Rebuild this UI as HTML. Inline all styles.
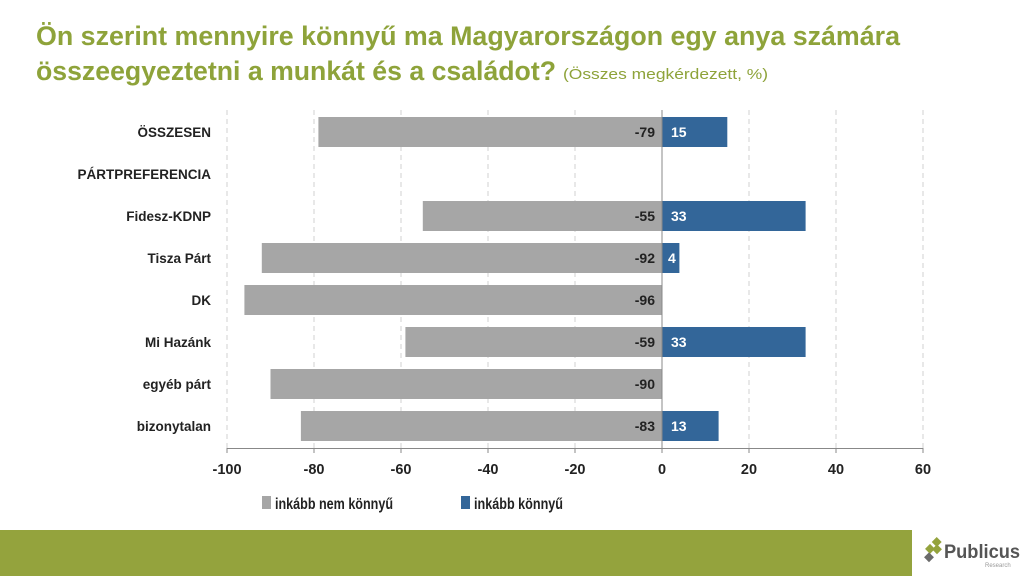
<!DOCTYPE html>
<html><head><meta charset="utf-8"><style>body{margin:0;width:1024px;height:576px;overflow:hidden;background:#fff}svg{display:block}</style></head><body>
<svg width="1024" height="576" xmlns="http://www.w3.org/2000/svg" font-family="Liberation Sans, sans-serif">
<text x="36" y="45" font-size="27" font-weight="bold" fill="#8ea33a" textLength="864" lengthAdjust="spacingAndGlyphs">Ön szerint mennyire könnyű ma Magyarországon egy anya számára</text>
<text x="36" y="80" font-size="27" font-weight="bold" fill="#8ea33a" textLength="520" lengthAdjust="spacingAndGlyphs">összeegyeztetni a munkát és a családot?</text>
<text x="563" y="79" font-size="15" fill="#8ea33a" textLength="205" lengthAdjust="spacingAndGlyphs">(Összes megkérdezett, %)</text>
<g stroke="#d0d0d0" stroke-width="1" stroke-dasharray="5,4">
<line x1="227" y1="110" x2="227" y2="448"/><line x1="314" y1="110" x2="314" y2="448"/><line x1="401" y1="110" x2="401" y2="448"/><line x1="488" y1="110" x2="488" y2="448"/><line x1="575" y1="110" x2="575" y2="448"/><line x1="749" y1="110" x2="749" y2="448"/><line x1="836" y1="110" x2="836" y2="448"/><line x1="923" y1="110" x2="923" y2="448"/>
</g>
<g fill="#a6a6a6">
<rect x="318.4" y="117" width="343.6" height="30"/>
<rect x="422.8" y="201" width="239.2" height="30"/>
<rect x="261.8" y="243" width="400.2" height="30"/>
<rect x="244.4" y="285" width="417.6" height="30"/>
<rect x="405.4" y="327" width="256.6" height="30"/>
<rect x="270.5" y="369" width="391.5" height="30"/>
<rect x="300.9" y="411" width="361.1" height="30"/>
</g>
<g fill="#336699">
<rect x="662" y="117" width="65.3" height="30"/>
<rect x="662" y="201" width="143.6" height="30"/>
<rect x="662" y="243" width="17.4" height="30"/>
<rect x="662" y="327" width="143.6" height="30"/>
<rect x="662" y="411" width="56.6" height="30"/>
</g>
<g stroke="#888" stroke-width="1">
<line x1="662" y1="110" x2="662" y2="448"/>
<line x1="227" y1="448.5" x2="923" y2="448.5"/>
<line x1="227" y1="448" x2="227" y2="453"/><line x1="314" y1="448" x2="314" y2="453"/><line x1="401" y1="448" x2="401" y2="453"/><line x1="488" y1="448" x2="488" y2="453"/><line x1="575" y1="448" x2="575" y2="453"/><line x1="662" y1="448" x2="662" y2="453"/><line x1="749" y1="448" x2="749" y2="453"/><line x1="836" y1="448" x2="836" y2="453"/><line x1="923" y1="448" x2="923" y2="453"/>
</g>
<g font-size="14" font-weight="bold" fill="#222" text-anchor="end">
<text x="655" y="137">-79</text><text x="655" y="221">-55</text><text x="655" y="263">-92</text><text x="655" y="305">-96</text><text x="655" y="347">-59</text><text x="655" y="389">-90</text><text x="655" y="431">-83</text>
</g>
<g font-size="14" font-weight="bold" fill="#fff">
<text x="671" y="137">15</text><text x="671" y="221">33</text><text x="668" y="263">4</text><text x="671" y="347">33</text><text x="671" y="431">13</text>
</g>
<g font-size="13.5" font-weight="bold" fill="#222" text-anchor="end">
<text x="211" y="137">ÖSSZESEN</text><text x="211" y="179">PÁRTPREFERENCIA</text><text x="211" y="221">Fidesz-KDNP</text><text x="211" y="263">Tisza Párt</text><text x="211" y="305">DK</text><text x="211" y="347">Mi Hazánk</text><text x="211" y="389">egyéb párt</text><text x="211" y="431">bizonytalan</text>
</g>
<g font-size="14.5" font-weight="bold" fill="#222" text-anchor="middle">
<text x="227" y="474">-100</text><text x="314" y="474">-80</text><text x="401" y="474">-60</text><text x="488" y="474">-40</text><text x="575" y="474">-20</text><text x="662" y="474">0</text><text x="749" y="474">20</text><text x="836" y="474">40</text><text x="923" y="474">60</text>
</g>
<rect x="262" y="496" width="9" height="13" fill="#a6a6a6"/>
<text x="275" y="509" font-size="16" font-weight="bold" fill="#222" textLength="118" lengthAdjust="spacingAndGlyphs">inkább nem könnyű</text>
<rect x="461" y="496" width="9" height="13" fill="#336699"/>
<text x="474" y="509" font-size="16" font-weight="bold" fill="#222" textLength="89" lengthAdjust="spacingAndGlyphs">inkább könnyű</text>
<rect x="0" y="530" width="912" height="46" fill="#94a33d"/>
<g transform="translate(930,551)">
<rect x="-5" y="-5" width="7" height="7" fill="#94a33d" transform="rotate(45)"/>
<rect x="3" y="-13" width="7" height="7" fill="#94a33d" transform="rotate(45 6 -9)"/>
<rect x="-5" y="3" width="7" height="7" fill="#6b6b6b" transform="rotate(45 -1 7)"/>
<rect x="3" y="-5" width="7" height="7" fill="#94a33d" transform="rotate(45 7 -1)"/>
</g>
<text x="944" y="558" font-size="19" font-weight="bold" fill="#555" textLength="76" lengthAdjust="spacingAndGlyphs">Publicus</text>
<text x="985" y="567" font-size="6" fill="#999">Research</text>
</svg>
</body></html>
